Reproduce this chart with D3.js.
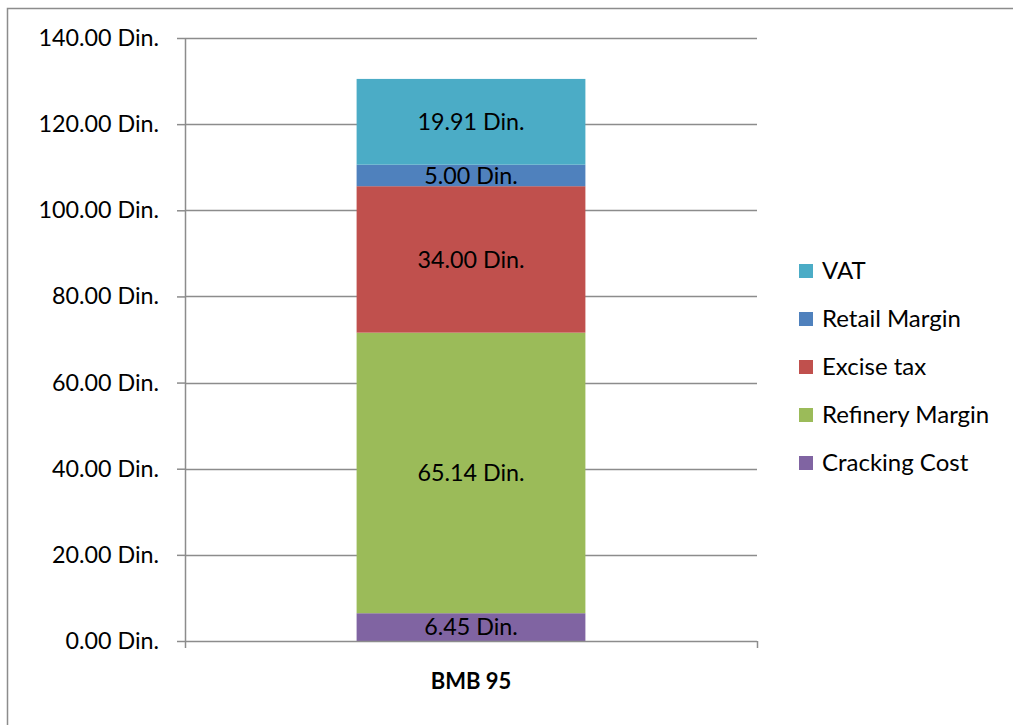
<!DOCTYPE html>
<html>
<head>
<meta charset="utf-8">
<script src="https://cdn.jsdelivr.net/npm/d3@7"></script>
<style>
  body { margin: 0; background: #fff; }
  svg text { font-family: Lato, "Open Sans", sans-serif; fill: #000; }
</style>
</head>
<body>
<div id="chart"></div>
<script>
// data, bottom to top
const category = "BMB 95";
const series = ["Cracking Cost", "Refinery Margin", "Excise tax", "Retail Margin", "VAT"];
const values = [6.45, 65.14, 34.0, 5.0, 19.91];
const colors = ["#8064A2", "#9BBB59", "#C0504D", "#4F81BD", "#4BACC6"];
const yTicks = [0, 20, 40, 60, 80, 100, 120, 140];

const width = 1013, height = 725;
const plot = { left: 185, right: 757, top: 38, bottom: 641 };
const labelSize = "23.3px";

const svg = d3.select("#chart").append("svg")
  .attr("width", width)
  .attr("height", height);

// outer chart frame (cut off on right and bottom)
svg.append("rect")
  .attr("x", 7.5).attr("y", 8.5)
  .attr("width", width + 20).attr("height", height + 20)
  .attr("fill", "none")
  .attr("stroke", "#8c8c8c")
  .attr("stroke-width", 1.5);

const yScale = d3.scaleLinear()
  .domain([0, 140])
  .range([plot.bottom, plot.top]);

const xScale = d3.scaleBand()
  .domain([category])
  .range([plot.left, plot.right])
  .paddingInner(0)
  .paddingOuter(0.75);

// gridlines
svg.append("g")
  .selectAll("line")
  .data(yTicks.filter(d => d > 0))
  .join("line")
  .attr("x1", plot.left).attr("x2", plot.right)
  .attr("y1", d => Math.round(yScale(d)) + 0.5)
  .attr("y2", d => Math.round(yScale(d)) + 0.5)
  .attr("stroke", "#8c8c8c")
  .attr("stroke-width", 1.5);

// stacked bar
let acc = 0;
const stackData = values.map((v, i) => {
  const d = { name: series[i], y0: acc, y1: acc + v, value: v, color: colors[i] };
  acc += v;
  return d;
});

const barG = svg.append("g");
barG.selectAll("rect")
  .data(stackData)
  .join("rect")
  .attr("x", xScale(category))
  .attr("width", xScale.bandwidth())
  .attr("y", d => yScale(d.y1))
  .attr("height", d => yScale(d.y0) - yScale(d.y1))
  .attr("fill", d => d.color);

barG.selectAll("text")
  .data(stackData)
  .join("text")
  .attr("x", xScale(category) + xScale.bandwidth() / 2)
  .attr("y", d => yScale((d.y0 + d.y1) / 2))
  .attr("dy", "0.35em")
  .attr("text-anchor", "middle")
  .style("font-size", labelSize)
  .text(d => d3.format(".2f")(d.value) + " Din.");

// y axis
const yAxis = d3.axisLeft(yScale)
  .tickValues(yTicks)
  .tickSize(8)
  .tickPadding(18)
  .tickFormat(d => d3.format(".2f")(d) + " Din.");

const yAxisG = svg.append("g")
  .attr("transform", `translate(${plot.left},0)`)
  .call(yAxis);
yAxisG.selectAll("path,line").attr("stroke", "#8c8c8c").attr("stroke-width", 1.5);
yAxisG.select(".domain").attr("d", `M0.5,${plot.top}V${plot.bottom}`);
yAxisG.selectAll("text").style("font-size", labelSize).attr("fill", "#000");

// x axis
const xAxisG = svg.append("g")
  .attr("transform", `translate(0,${plot.bottom})`);
xAxisG.append("line")
  .attr("x1", plot.left).attr("x2", plot.right)
  .attr("y1", 0.5).attr("y2", 0.5)
  .attr("stroke", "#8c8c8c").attr("stroke-width", 1.5);
xAxisG.selectAll(".xtick")
  .data([plot.left, plot.right])
  .join("line")
  .attr("class", "xtick")
  .attr("x1", d => d + 0.5).attr("x2", d => d + 0.5)
  .attr("y1", 0).attr("y2", 7)
  .attr("stroke", "#8c8c8c").attr("stroke-width", 1.5);
xAxisG.append("text")
  .attr("x", xScale(category) + xScale.bandwidth() / 2)
  .attr("y", 48)
  .attr("text-anchor", "middle")
  .style("font-size", "22px")
  .style("font-weight", "bold")
  .text(category);

// legend, top to bottom is VAT ... Cracking Cost
const legendItems = stackData.slice().reverse();
const legend = svg.append("g")
  .attr("transform", "translate(799,271)");
const li = legend.selectAll("g")
  .data(legendItems)
  .join("g")
  .attr("transform", (d, i) => `translate(0,${i * 48})`);
li.append("rect")
  .attr("x", 0).attr("y", -7)
  .attr("width", 14).attr("height", 14)
  .attr("fill", d => d.color);
li.append("text")
  .attr("x", 23)
  .attr("dy", "0.35em")
  .style("font-size", "24px")
  .text(d => d.name);
</script>
</body>
</html>
